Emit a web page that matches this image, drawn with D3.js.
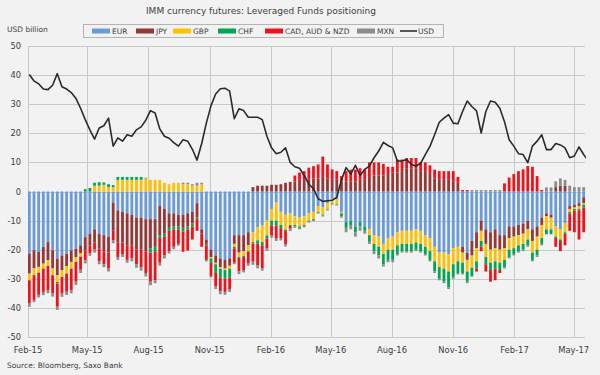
<!DOCTYPE html>
<html>
<head>
<meta charset="utf-8">
<script src="https://cdn.jsdelivr.net/npm/d3@7"></script>
<style>
  body { margin: 0; background: #f2f2f2; }
  svg { display: block; }
  text { font-family: "DejaVu Sans", Verdana, sans-serif; fill: #404040; }
</style>
</head>
<body>
<svg id="chart"></svg>
<script>
// weekly report dates (Tuesdays), Feb-15 .. May-17
const firstWeek = new Date(2015, 1, 3);
const endWeek = new Date(2017, 4, 24);

// net positions, USD billion
const eur = [
  -21.4, -20.2, -20.8, -19.1, -17.4, -20.2, -23.1, -22, -21.4, -20.2,
  -19.7, -18.5, -15.7, -14.5, -13, -14.5, -15, -15.5, -3.8, -6.5,
  -7, -7.5, -8, -9, -9, -9.5, -9.5, -9.5, -5, -6,
  -7.5, -7.5, -8, -8, -7.5, -7, -4, -13, -16.5, -20,
  -22, -23, -23.5, -23, -15, -15, -15, -14, -14, -12.3,
  -11.7, -10, -6, -3.8, -7, -8, -7.5, -8.5, -9, -8.5,
  -7.5, -7, -5, -5.5, -4, -2.5, -2.8, -7, -10.5, -10,
  -12, -10.5, -12, -13, -15, -15.5, -18, -16, -15.5, -14,
  -13.5, -13.5, -13.5, -13, -13.5, -15, -16, -19, -21, -21,
  -21.5, -19.5, -19, -19, -21, -17, -14, -10, -13, -14,
  -13, -15, -15, -12, -12, -11.5, -11, -10, -13, -12,
  -9, -7.5, -8, -12, -13, -11, -5, -4.5, -4, -2,
  -0.5
];
const jpy = [
  -6.8, -6.25, -5.1, -5.7, -6.25, -6.25, -5.7, -5.1, -4.2, -4,
  -2.8, -2.8, -4.5, -4, -4.5, -5, -5.5, -5.5, -9.5, -11,
  -10.5, -11, -10.5, -11, -11, -11, -10, -9.5, -10, -8.5,
  -5, -4.5, -4, -4.5, -4.5, -4, -5, -1.5, -1.5, -2.5,
  -2.5, -3, -3, -2.5, -3, -6, -5.5, -4.5, 1.5, 2,
  2, 2, 2.3, 2.3, 2.5, 3, 3.3, 3.5, 4, 4,
  4.2, 4.5, 4.5, 5, 4.5, 4, 4, 3.5, 3.5, 3.5,
  3.5, 4, 4, 5, 5.5, 5.5, 5.5, 6, 6.5, 6.5,
  7, 8, 8, 8, 7, 7, 6, 4.5, 4, 4,
  4, 3.5, 3, -2, -2.5, -5, -5.5, -3.5, -5, -6,
  -6.5, -5, -4.5, -4, -3.5, -3.5, -3.5, -3, -4, -3.5,
  -2.5, -1, -1, 1.5, 2, 2, -1, -1, -1, -2,
  -3
];
const gbp = [
  -2.3, -2.3, -2, -1.7, -1.9, -2.3, -2.3, -2.3, -2.6, -2.3,
  -1.7, -1.1, 0, 0, 2, 2, 2.3, 1.5, 1.5, 4,
  4, 4, 4, 4, 4, 4.5, 4, 4, 4, 3,
  2.5, 3, 3, 2.5, 2.5, 2, 2, 2.5, 0, -0.5,
  -0.5, -0.5, -0.5, -1, -1, -1.5, -1.7, -2, -3.4, -4.5,
  -5.7, -5.1, -4, -6.2, -4.5, -5.1, -4, -3, -3, -3,
  -2.5, -2.5, -2, -2.5, -2, -1.5, -1.5, -0.5, 0, 0,
  0, 0, 0, -2, -3, -3.5, -3.5, -4, -4.5, -4.5,
  -4.5, -4.5, -4.5, -4.5, -4.5, -4, -4.5, -5, -5, -5.5,
  -6, -5.5, -5, -3.5, -4, -4.2, -4.5, -3.5, -4.5, -4.5,
  -4.5, -4.5, -4, -4, -4, -3.5, -3.5, -3.5, -4, -4.5,
  -4.5, -4.5, -4, -3.5, -3.5, -3, -1, -0.5, -1, -0.5,
  -0.5
];
const chf = [
  0, 0, 0, 0, 0, 0, -0.5, 0, 0, 0,
  0, 0, 0.8, 1.2, 1, 1.2, 0.8, 1, 0.7, 1,
  1, 1, 1, 1, 1, 0.2, -1.5, -1.5, -1, -1,
  -1, -1, -1, -1.2, -1, -1, -0.5, 0, -0.5, -1.5,
  -3, -3, -3, -3, -0.5, -0.3, -0.3, -0.3, -0.5, -1.1,
  -1.1, -1.1, -1.7, -1.7, -1.1, -0.5, -0.3, -0.5, -0.5, -0.3,
  -0.3, -0.3, -0.3, -0.3, -0.2, -0.2, -0.2, -1, -2, -1.5,
  -2, -1.5, -1.5, -2, -2.5, -3, -3.5, -3.5, -3.5, -3,
  -2.5, -2.5, -2.5, -2.5, -2.5, -2.5, -3, -3.5, -4, -4.5,
  -5.5, -4.5, -4, -3.5, -3.5, -3, -2.5, -2, -2.5, -2.5,
  -2.5, -2.5, -2.5, -2.5, -2, -2, -2, -2, -2.5, -2,
  -2, -1.7, -1.7, -0.5, -0.5, -0.5, -0.5, -0.5, -0.5, -1,
  -1
];
const cad = [
  -8, -8.5, -7.6, -8, -8.3, -6.25, -8, -5.7, -6.25, -7.4,
  -6.8, -4.5, -3.4, -2.8, -2.5, -4.5, -4.5, -5.5, -3.5, -5,
  -4, -5, -4.5, -5, -6, -7.5, -10, -10, -8.5, -6.5,
  -7, -6, -5, -7, -7.3, -4.5, -4, -4.5, -5, -4.5,
  -4.5, -4.8, -4.5, -4, -5, -4.7, -4.5, -4, -6.2, -7.4,
  -7.9, -3.4, -3.4, -4.5, -3.4, -4.5, -1, 2, 2.5, 3,
  4, 4.2, 4.8, 7, 4.8, 3.6, 3, 1.8, 3.5, 4,
  4, 4, 3.5, 5, 4.5, 4.5, 4, 2.5, 2, 4.5,
  4, 3.5, 3.5, 3.5, 3, 3, 3, 3, 3, 3,
  3, 3.5, 2, 0.5, 0.5, 0, -1, -1.5, -2.5, -4,
  -4, -1, 2.8, 4.8, 6, 7, 7.6, 8.75, 8.5, 5.3,
  0.5, 0, 0, -3, -3.5, -4, -6, -7.5, -10, -8.5,
  -7
];
const mxn = [
  -1.1, -0.8, -0.9, -1.1, -1.1, -1.1, -1.1, -1.1, -1.1, -1.1,
  -1.1, -1.1, -1.1, -0.8, -1, -1, -1, -1, -1, -1,
  -1, -1, -1, -1.2, -1.2, -1.2, -1.2, -1, -1, -1,
  -0.8, -0.8, -0.6, 0.5, 0.5, 0.5, 1, 0.5, -0.5, -0.5,
  -1, -1, -1, -1, -0.5, -0.9, -0.8, -0.7, -1.1, -1.1,
  -0.8, -0.8, -0.8, -0.8, -0.8, -0.8, -0.8, -0.5, -0.5, -0.5,
  -0.4, -0.4, -0.3, -0.3, -0.3, -0.3, -0.3, -0.5, -1.5, -1.5,
  -1.5, -1.5, -1, -1, -1, -1, -0.8, -0.8, -0.8, -0.5,
  -0.5, -0.5, -0.5, -0.5, -0.5, -0.5, -0.5, -0.5, -0.5, -0.5,
  -0.5, -0.5, -0.5, -0.5, -0.5, 0.5, 0.5, 0.5, 0.5, 0.5,
  0.5, 0.5, -0.5, -0.5, -0.5, -0.5, -0.5, -0.5, -0.5, -0.5,
  -0.5, 1.4, 1.4, 2, 2.5, 2, 2, 1.5, 1.5, 1.5,
  1.5
];
const usd = [
  40.2, 38, 37, 35.2, 35, 36.5, 40.5, 36, 35.2, 34,
  32, 28.6, 24.7, 21.2, 18, 21.8, 22.6, 25.2, 15.6, 18.4,
  17.3, 19.5, 19, 21.2, 22.2, 24.5, 27.8, 27, 21.5, 19,
  18.3, 16.8, 15.6, 17.8, 17.3, 14.5, 10.8, 16.5, 23.5, 29.5,
  33.5, 35.3, 35.5, 34.5, 25, 28.4, 27.8, 25.5, 25.5, 25.5,
  24.7, 19, 15, 13, 13.5, 15, 10, 8.5, 8, 5.5,
  2.5, 1, -2.5, -3.4, -3.2, -3, -2, 4, 8.2, 6,
  9, 5.5, 7.6, 8.75, 11.6, 13.9, 16.9, 15.8, 15, 10.5,
  10.5, 11, 9.3, 8.75, 9.7, 12.7, 15.5, 19.5, 23.8, 25.2,
  26.4, 23.5, 23.3, 27.5, 31.1, 29.2, 27.7, 20.1, 27.5, 31.1,
  30.7, 28.6, 24, 17.8, 15.6, 13, 12.7, 9.9, 15.6, 17.3,
  19.5, 14.4, 14.4, 16.5, 16, 15, 11.6, 12.2, 15.3, 12.7,
  10.5
];

const keys = ["EUR", "JPY", "GBP", "CHF", "CAD, AUD & NZD", "MXN"];
const colors = ["#6a9bd8", "#953735", "#ffc000", "#00a650", "#f0121b", "#8c8c8c"];
const yTicks = [-50, -40, -30, -20, -10, 0, 10, 20, 30, 40, 50];

var width = 600,
    height = 375;

var svg = d3.select("#chart")
    .attr("width", width)
    .attr("height", height);

svg.append("rect")
    .attr("width", width)
    .attr("height", height)
    .attr("fill", "#f2f2f2");

// plot area
var plot = { left: 28, right: 585, top: 46, bottom: 337 };

var weeks = d3.timeTuesday.range(firstWeek, endWeek);
var rows = weeks.map((d, i) => ({
    date: d,
    "EUR": eur[i],
    "JPY": jpy[i],
    "GBP": gbp[i],
    "CHF": chf[i],
    "CAD, AUD & NZD": cad[i],
    "MXN": mxn[i],
    "USD": usd[i]
}));

var x = d3.scaleTime()
    .domain([new Date(2015, 1, 1), new Date(2017, 4, 21)])
    .range([plot.left, 587]);
var y = d3.scaleLinear()
    .domain([-50, 50])
    .range([plot.bottom, plot.top]);

var color = d3.scaleOrdinal().domain(keys).range(colors);

var tickDates = d3.timeMonth.range(new Date(2015, 1, 1), new Date(2017, 5, 1), 3);

// gridlines
var grid = svg.append("g").attr("stroke", "#c8c8c8").attr("stroke-width", 1);
grid.selectAll("line.h")
    .data(yTicks)
    .enter().append("line")
    .attr("class", "h")
    .attr("x1", plot.left).attr("x2", plot.right)
    .attr("y1", d => Math.round(y(d)) + 0.5)
    .attr("y2", d => Math.round(y(d)) + 0.5);
grid.selectAll("line.v")
    .data(tickDates)
    .enter().append("line")
    .attr("class", "v")
    .attr("x1", d => Math.round(x(d)) + 0.5)
    .attr("x2", d => Math.round(x(d)) + 0.5)
    .attr("y1", plot.top).attr("y2", plot.bottom);

svg.append("clipPath")
    .attr("id", "clip")
    .append("rect")
    .attr("x", plot.left).attr("y", plot.top - 5)
    .attr("width", plot.right - plot.left + 1)
    .attr("height", plot.bottom - plot.top + 10);

// stacked bars, positives up and negatives down
var series = d3.stack()
    .keys(keys)
    .offset(d3.stackOffsetDiverging)(rows);

var bw = 2.8;
svg.append("g")
    .attr("clip-path", "url(#clip)")
    .selectAll("g")
    .data(series)
    .enter().append("g")
    .attr("fill", s => color(s.key))
    .selectAll("rect")
    .data(s => s)
    .enter().append("rect")
    .attr("x", d => x(d.data.date) - bw / 2)
    .attr("width", bw)
    .attr("y", d => y(Math.max(d[0], d[1])))
    .attr("height", d => Math.abs(y(d[0]) - y(d[1])));

// USD line
var line = d3.line()
    .x(d => x(d.date))
    .y(d => y(d.USD));
svg.append("path")
    .datum(rows)
    .attr("clip-path", "url(#clip)")
    .attr("d", line)
    .attr("fill", "none")
    .attr("stroke", "#2b2b2b")
    .attr("stroke-width", 1.6)
    .attr("stroke-linejoin", "round");

// axis labels
svg.append("g")
    .selectAll("text")
    .data(yTicks)
    .enter().append("text")
    .attr("x", 21)
    .attr("y", d => y(d) + 3)
    .attr("text-anchor", "end")
    .attr("font-size", "8.3px")
    .attr("fill", "#595959")
    .text(d => d);

var fmt = d3.timeFormat("%b-%y");
svg.append("g")
    .selectAll("text")
    .data(tickDates)
    .enter().append("text")
    .attr("x", d => x(d))
    .attr("y", 353)
    .attr("text-anchor", "middle")
    .attr("font-size", "8.4px")
    .attr("fill", "#595959")
    .text(d => fmt(d));

// titles
svg.append("text")
    .attr("x", 261).attr("y", 14)
    .attr("text-anchor", "middle")
    .attr("font-size", "9px")
    .text("IMM currency futures: Leveraged Funds positioning");

svg.append("text")
    .attr("x", 7).attr("y", 32)
    .attr("font-size", "7.5px")
    .attr("fill", "#595959")
    .text("USD billion");

svg.append("text")
    .attr("x", 7).attr("y", 368)
    .attr("font-size", "7.5px")
    .attr("fill", "#595959")
    .text("Source: Bloomberg, Saxo Bank");

// legend
var legend = svg.append("g");
legend.append("rect")
    .attr("x", 83.5).attr("y", 24.5)
    .attr("width", 360).attr("height", 13)
    .attr("fill", "#f2f2f2")
    .attr("stroke", "#b4b4b4");

var legendX = [92, 136, 173, 218, 265, 357];
var items = legend.selectAll("g.item")
    .data(keys)
    .enter().append("g")
    .attr("class", "item")
    .attr("transform", (d, i) => `translate(${legendX[i]}, 0)`);
items.append("rect")
    .attr("y", 28.5).attr("width", 18).attr("height", 5)
    .attr("fill", d => color(d));
items.append("text")
    .attr("x", 20).attr("y", 34)
    .attr("font-size", "7.5px")
    .attr("fill", "#404040")
    .text(d => d);

var usdItem = legend.append("g").attr("transform", "translate(400, 0)");
usdItem.append("line")
    .attr("x1", 0).attr("x2", 17)
    .attr("y1", 31).attr("y2", 31)
    .attr("stroke", "#2b2b2b").attr("stroke-width", 1.6);
usdItem.append("text")
    .attr("x", 18).attr("y", 34)
    .attr("font-size", "7.5px")
    .attr("fill", "#404040")
    .text("USD");
</script>
</body>
</html>
